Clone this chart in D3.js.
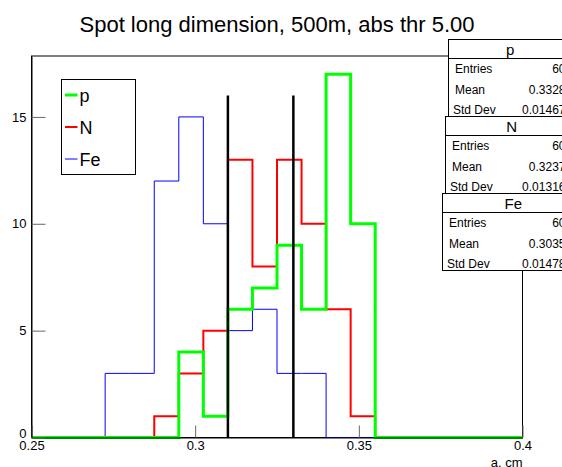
<!DOCTYPE html>
<html>
<head>
<meta charset="utf-8">
<script src="https://cdn.jsdelivr.net/npm/d3@7"></script>
<style>
  html, body { margin: 0; padding: 0; background: #fff; }
  svg { display: block; font-family: "Liberation Sans", Arial, sans-serif; }
</style>
</head>
<body>
<svg id="chart" width="562" height="467"></svg>
<script>
// Histogram binning: 20 bins from 0.25 to 0.40 cm
const binLow = 0.25;
const binHigh = 0.40;
const binCount = 20;

// Counts per bin for each primary
const pCounts  = [0,0,0,0,0,0,4,1,6,7,9,6,17,10,0,0,0,0,0,0];
const nCounts  = [0,0,0,0,0,1,3,5,13,8,13,10,6,1,0,0,0,0,0,0];
const feCounts = [0,0,0,3,3,12,15,10,5,6,3,3,0,0,0,0,0,0,0,0];

// Cut markers
const cutValues = [0.31, 0.33];
const cutHeight = 16;

// Axis ticks
const xTicks = [0.25, 0.3, 0.35, 0.4];
const xTickLabels = ["0.25", "0.3", "0.35", "0.4"];
const yTicks = [0, 5, 10, 15];
const yMax = 17.85;

// Statistics boxes
const statNames = ["p", "N", "Fe"];
const statEntries = ["60", "60", "60"];
const statMeans = ["0.3328", "0.3237", "0.3035"];
const statStdDevs = ["0.01467", "0.01316", "0.01478"];

const series = [
  { name: "Fe", counts: feCounts, color: "#0000ff", width: 1 },
  { name: "N",  counts: nCounts,  color: "#ff0000", width: 2 },
  { name: "p",  counts: pCounts,  color: "#00ff00", width: 3 }
];

const svg = d3.select("#chart");
const frame = { left: 31.5, right: 522.5, top: 56, bottom: 437.5 };

const x = d3.scaleLinear().domain([binLow, binHigh]).range([frame.left, frame.right]);
const y = d3.scaleLinear().domain([0, yMax]).range([frame.bottom, frame.top]);
const binWidth = (binHigh - binLow) / binCount;

// Title
svg.append("text")
  .attr("x", 277).attr("y", 31.5)
  .attr("text-anchor", "middle")
  .attr("font-size", 22)
  .attr("fill", "#000")
  .text("Spot long dimension, 500m, abs thr 5.00");

// Frame
svg.append("rect")
  .attr("x", frame.left).attr("y", frame.top)
  .attr("width", frame.right - frame.left)
  .attr("height", frame.bottom - frame.top)
  .attr("fill", "none").attr("stroke", "#000").attr("stroke-width", 1);

// Step outline of a histogram across the full axis range
function stepPath(counts) {
  const pts = [[x(binLow), y(0)]];
  counts.forEach((c, i) => {
    const x0 = x(binLow + i * binWidth);
    const x1 = x(binLow + (i + 1) * binWidth);
    pts.push([x0, y(c)]);
    pts.push([x1, y(c)]);
  });
  pts.push([x(binHigh), y(0)]);
  return d3.line()(pts);
}

const plot = svg.append("g");
series.forEach(s => {
  plot.append("path")
    .attr("d", stepPath(s.counts))
    .attr("fill", "none")
    .attr("stroke", s.color)
    .attr("stroke-width", s.width)
    .attr("stroke-linejoin", "miter");
});

// Cut lines
cutValues.forEach(v => {
  plot.append("line")
    .attr("x1", x(v)).attr("x2", x(v))
    .attr("y1", y(0)).attr("y2", y(cutHeight))
    .attr("stroke", "#000").attr("stroke-width", 2.5);
});

// X axis ticks and labels
const xAxis = d3.axisBottom(x)
  .tickValues(xTicks)
  .tickFormat((d, i) => xTickLabels[i])
  .tickSizeInner(-12)
  .tickSizeOuter(0)
  .tickPadding(3.5);
const gx = svg.append("g")
  .attr("transform", `translate(0,${frame.bottom})`)
  .call(xAxis);
gx.select(".domain").attr("stroke", "#000");
gx.selectAll(".tick line").attr("stroke", "#666");
gx.selectAll(".tick text")
  .attr("font-size", 13)
  .attr("font-family", "Liberation Sans, Arial, sans-serif")
  .attr("fill", "#000");

// Y axis ticks and labels
const yAxis = d3.axisLeft(y)
  .tickValues(yTicks)
  .tickFormat(d3.format("d"))
  .tickSizeInner(-14)
  .tickSizeOuter(0)
  .tickPadding(5);
const gy = svg.append("g")
  .attr("transform", `translate(${frame.left},0)`)
  .call(yAxis);
gy.select(".domain").attr("stroke", "#000");
gy.selectAll(".tick line").attr("stroke", "#666");
gy.selectAll(".tick text")
  .attr("font-size", 13)
  .attr("font-family", "Liberation Sans, Arial, sans-serif")
  .attr("fill", "#000");
// lift the zero label clear of the first x label
gy.selectAll(".tick text").filter(d => d === 0).attr("y", -4);

// X axis title
svg.append("text")
  .attr("x", frame.right).attr("y", 467)
  .attr("text-anchor", "end")
  .attr("font-size", 13)
  .text("a. cm");

// Legend
const legend = svg.append("g");
legend.append("rect")
  .attr("x", 61.5).attr("y", 79.5)
  .attr("width", 74).attr("height", 95)
  .attr("fill", "#fff").attr("stroke", "#000").attr("stroke-width", 1);
const legendItems = [series[2], series[1], series[0]];
legendItems.forEach((s, i) => {
  const ly = 95 + i * 32;
  legend.append("line")
    .attr("x1", 65).attr("x2", 77.5)
    .attr("y1", ly).attr("y2", ly)
    .attr("stroke", s.color).attr("stroke-width", s.width);
  legend.append("text")
    .attr("x", 79.5).attr("y", ly + 6.5)
    .attr("font-size", 18)
    .text(s.name);
});

// Statistics boxes
const boxes = [
  { left: 448.5, top: 39.5 },
  { left: 445.5, top: 116.5 },
  { left: 442.5, top: 193.5 }
];
statNames.forEach((name, i) => {
  const b = boxes[i];
  const g = svg.append("g");
  const right = 562 + (448.5 - b.left) * 2 + 10;
  g.append("rect")
    .attr("x", b.left).attr("y", b.top)
    .attr("width", right - b.left).attr("height", 77)
    .attr("fill", "#fff").attr("stroke", "#000").attr("stroke-width", 1);
  g.append("line")
    .attr("x1", b.left).attr("x2", right)
    .attr("y1", b.top + 19).attr("y2", b.top + 19)
    .attr("stroke", "#000");
  g.append("text")
    .attr("x", (b.left + right) / 2).attr("y", b.top + 15)
    .attr("text-anchor", "middle")
    .attr("font-size", 15)
    .text(name);
  const rows = [["Entries", statEntries[i]], ["Mean", statMeans[i]], ["Std Dev", statStdDevs[i]]];
  rows.forEach((r, j) => {
    const ry = b.top + 33.5 + j * 20.7;
    g.append("text")
      .attr("x", b.left + 6.5 - (j === 2 ? 2 : 0)).attr("y", ry)
      .attr("font-size", 12)
      .text(r[0]);
    g.append("text")
      .attr("x", 565.5).attr("y", ry)
      .attr("text-anchor", "end")
      .attr("font-size", 12)
      .text(r[1]);
  });
});
</script>
</body>
</html>
